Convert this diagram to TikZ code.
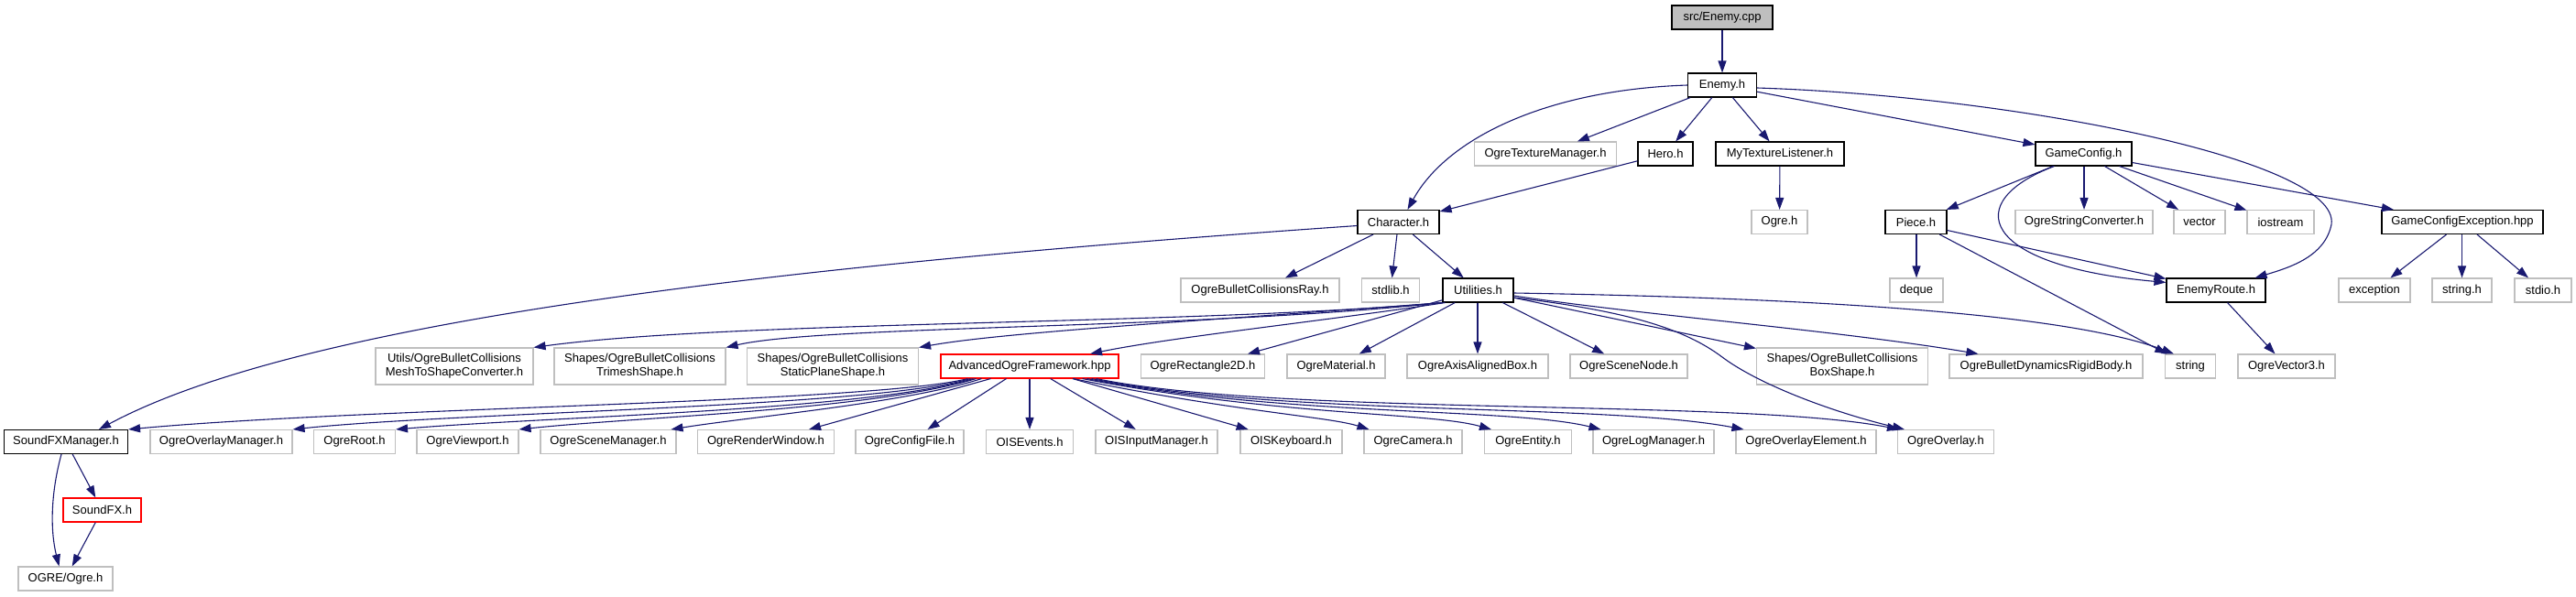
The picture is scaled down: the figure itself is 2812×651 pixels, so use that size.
\documentclass[tikz,border=0pt]{standalone}
\usepackage{fontspec}
\setmainfont{Liberation Sans}
\usetikzlibrary{arrows.meta,calc}
\definecolor{edgec}{HTML}{191970}
\definecolor{grayb}{HTML}{BFBFBF}
\begin{document}
\begin{tikzpicture}[x=1pt,y=-1pt,
  base/.style={draw,line width=1.1pt,inner sep=0pt,fill=white,align=center,
    font=\fontsize{13}{15}\selectfont},
  bk/.style={base,draw=black},
  gy/.style={base,draw=grayb},
  rd/.style={base,draw=red},
  e/.style={draw=edgec,line width=1.1pt,-{Triangle[length=13pt,width=9pt]}}]
\useasboundingbox (0,0) rectangle (2812,651);
% row 0-1
\node[bk,fill=grayb,minimum width=110pt,minimum height=26pt] (root) at (1880,19) {src/Enemy.cpp};
\node[bk,minimum width=75pt,minimum height=26pt] (enemy) at (1880,93) {Enemy.h};
% row 2
\node[gy,minimum width=155pt,minimum height=26pt] (otm) at (1687,168) {OgreTextureManager.h};
\node[bk,minimum width=60pt,minimum height=26pt] (hero) at (1818,168) {Hero.h};
\node[bk,minimum width=140pt,minimum height=26pt] (mtl) at (1943,168) {MyTextureListener.h};
\node[bk,minimum width=105pt,minimum height=26pt] (gcfg) at (2274.5,168) {GameConfig.h};
% row 3
\node[bk,minimum width=89pt,minimum height=26pt] (chr) at (1526.5,242.5) {Character.h};
\node[gy,minimum width=61pt,minimum height=26pt] (ogreh) at (1942.5,242.5) {Ogre.h};
\node[bk,minimum width=67pt,minimum height=26pt] (piece) at (2091.5,242.5) {Piece.h};
\node[gy,minimum width=150pt,minimum height=26pt] (osc) at (2275,242.5) {OgreStringConverter.h};
\node[gy,minimum width=56pt,minimum height=26pt] (vec) at (2401,242.5) {vector};
\node[gy,minimum width=73pt,minimum height=26pt] (ios) at (2489.5,242.5) {iostream};
\node[bk,minimum width=176pt,minimum height=26pt] (gce) at (2688,242.5) {GameConfigException.hpp};
% row 4
\node[gy,minimum width=173pt,minimum height=26pt] (obcr) at (1375.5,317) {OgreBulletCollisionsRay.h};
\node[gy,minimum width=63pt,minimum height=26pt] (stdlib) at (1518,317) {stdlib.h};
\node[bk,minimum width=77pt,minimum height=26pt] (util) at (1613.5,317) {Utilities.h};
\node[gy,minimum width=58pt,minimum height=26pt] (deque) at (2092,317) {deque};
\node[bk,minimum width=108pt,minimum height=26pt] (eroute) at (2419,317) {EnemyRoute.h};
\node[gy,minimum width=78pt,minimum height=26pt] (exc) at (2592,317) {exception};
\node[gy,minimum width=65pt,minimum height=26pt] (strh) at (2687.5,317) {string.h};
\node[gy,minimum width=62pt,minimum height=26pt] (stdio) at (2776,317) {stdio.h};
% row 5
\node[gy,minimum width=172pt,minimum height=40pt] (mesh) at (496,400) {Utils/OgreBulletCollisions\\MeshToShapeConverter.h};
\node[gy,minimum width=187pt,minimum height=40pt] (trim) at (698.5,400) {Shapes/OgreBulletCollisions\\TrimeshShape.h};
\node[gy,minimum width=187pt,minimum height=40pt] (splane) at (909,400) {Shapes/OgreBulletCollisions\\StaticPlaneShape.h};
\node[rd,minimum width=194pt,minimum height=26pt] (aof) at (1124,400) {AdvancedOgreFramework.hpp};
\node[gy,minimum width=135pt,minimum height=26pt] (rect) at (1313,400) {OgreRectangle2D.h};
\node[gy,minimum width=107pt,minimum height=26pt] (mat) at (1458.5,400) {OgreMaterial.h};
\node[gy,minimum width=154pt,minimum height=26pt] (aabb) at (1613,400) {OgreAxisAlignedBox.h};
\node[gy,minimum width=128pt,minimum height=26pt] (snode) at (1778,400) {OgreSceneNode.h};
\node[gy,minimum width=187pt,minimum height=40pt] (box) at (2011,400) {Shapes/OgreBulletCollisions\\BoxShape.h};
\node[gy,minimum width=211pt,minimum height=26pt] (rigid) at (2233.5,400) {OgreBulletDynamicsRigidBody.h};
\node[gy,minimum width=55pt,minimum height=26pt] (str) at (2391,400) {string};
\node[gy,minimum width=106pt,minimum height=26pt] (vec3) at (2496,400) {OgreVector3.h};
% row 6
\node[bk,minimum width=135pt,minimum height=26pt] (sfxm) at (72,482.5) {SoundFXManager.h};
\node[gy,minimum width=155pt,minimum height=26pt] (ovm) at (241.5,482.5) {OgreOverlayManager.h};
\node[gy,minimum width=89pt,minimum height=26pt] (oroot) at (387,482.5) {OgreRoot.h};
\node[gy,minimum width=111pt,minimum height=26pt] (vp) at (510.5,482.5) {OgreViewport.h};
\node[gy,minimum width=148pt,minimum height=26pt] (scm) at (664,482.5) {OgreSceneManager.h};
\node[gy,minimum width=149pt,minimum height=26pt] (rw) at (836,482.5) {OgreRenderWindow.h};
\node[gy,minimum width=118pt,minimum height=26pt] (cf) at (993,482.5) {OgreConfigFile.h};
\node[gy,minimum width=95pt,minimum height=26pt] (oise) at (1124,482.5) {OISEvents.h};
\node[gy,minimum width=133pt,minimum height=26pt] (oisim) at (1262.5,482.5) {OISInputManager.h};
\node[gy,minimum width=111pt,minimum height=26pt] (oisk) at (1409.5,482.5) {OISKeyboard.h};
\node[gy,minimum width=107pt,minimum height=26pt] (cam) at (1542.5,482.5) {OgreCamera.h};
\node[gy,minimum width=95pt,minimum height=26pt] (ent) at (1668,482.5) {OgreEntity.h};
\node[gy,minimum width=132pt,minimum height=26pt] (logm) at (1805,482.5) {OgreLogManager.h};
\node[gy,minimum width=153pt,minimum height=26pt] (ove) at (1971.5,482.5) {OgreOverlayElement.h};
\node[gy,minimum width=105pt,minimum height=26pt] (ov) at (2124,482.5) {OgreOverlay.h};
% rows 7-8
\node[rd,minimum width=85pt,minimum height=26pt] (sfx) at (111.5,557) {SoundFX.h};
\node[gy,minimum width=103pt,minimum height=26pt] (ogre2) at (71.5,632) {OGRE/Ogre.h};

% edges
\draw[e] (root) -- (enemy);
\draw[e] (enemy.west) .. controls (1690,98) and (1580,150) .. ($(chr.north)+(10,0)$);
\draw[e] (enemy) -- (otm);
\draw[e] (enemy) -- (hero);
\draw[e] (enemy) -- (mtl);
\draw[e] (enemy) -- (gcfg);
\draw[e] ($(enemy.east)+(0,3)$) .. controls (2200,105) and (2555,175) .. (2545,245)
  .. controls (2538,280) and (2500,292) .. ($(eroute.north east)+(-12,0)$);
\draw[e] (hero) -- (chr);
\draw[e] (mtl) -- (ogreh);
\draw[e] (gcfg) -- (piece);
\draw[e] ($(gcfg.south west)+(21,0)$) .. controls (2140,220) and (2160,290) .. ($(eroute.north west)+(0,5)$);
\draw[e] (gcfg.south -| osc.north) -- (osc.north);
\draw[e] (gcfg) -- (vec);
\draw[e] (gcfg) -- (ios);
\draw[e] (gcfg) -- (gce);
\draw[e] (piece.south -| deque.north) -- (deque.north);
\draw[e] ($(piece.east)+(0,9)$) -- ($(eroute.north west)+(0,1)$);
\draw[e] (piece) -- (str);
\draw[e] (gce) -- (exc);
\draw[e] (gce.south -| strh.north) -- (strh.north);
\draw[e] (gce) -- (stdio);
\draw[e] (eroute) -- (vec3);
\draw[e] (chr) -- (obcr);
\draw[e] (chr) -- (stdlib);
\draw[e] (chr) -- (util);
\draw[e] ($(chr.west)+(0,4)$) .. controls (850,290) and (330,350) .. ($(sfxm.north)+(36,0)$);
% Utilities
\draw[e] (util.south west) .. controls (1300,355) and (800,350) .. (mesh.north east);
\draw[e] (util.south west) .. controls (1300,360) and (900,355) .. (trim.north east);
\draw[e] (util.south west) .. controls (1350,348) and (1100,362) .. (splane.north east);
\draw[e] ($(util.south west)+(3,0)$) .. controls (1450,350) and (1280,368) .. ($(aof.north)+(66,0)$);
\draw[e] (util) -- (rect);
\draw[e] (util) -- (mat);
\draw[e] (util.south -| aabb.north) -- (aabb.north);
\draw[e] (util) -- (snode);
\draw[e] (util) -- (box);
\draw[e] ($(util.east)+(0,6)$) .. controls (1800,345) and (2000,360) .. ($(rigid.north west)+(32,0)$);
\draw[e] ($(util.east)+(0,3)$) .. controls (1950,325) and (2250,340) .. ($(str.north west)+(10,0)$);
\draw[e] ($(util.east)+(0,8)$) .. controls (1780,340) and (1840,360) .. (1880,390)
  .. controls (1920,420) and (2000,450) .. ($(ov.north west)+(8,0)$);
% AdvancedOgreFramework
\draw[e] ($(aof.south west)+(30,0)$) .. controls (950,440) and (400,445) .. (sfxm.north east);
\draw[e] ($(aof.south west)+(33,0)$) .. controls (950,445) and (500,450) .. (ovm.north east);
\draw[e] ($(aof.south west)+(36,0)$) .. controls (950,448) and (600,455) .. (oroot.north east);
\draw[e] ($(aof.south west)+(39,0)$) .. controls (950,448) and (700,455) .. (vp.north east);
\draw[e] ($(aof.south west)+(45,0)$) .. controls (990,440) and (820,455) .. ($(scm.north east)+(-6,0)$);
\draw[e] ($(aof.south west)+(55,0)$) -- ($(rw.north east)+(-28,0)$);
\draw[e] ($(aof.south west)+(72,0)$) -- ($(cf.north east)+(-40,0)$);
\draw[e] (aof.south) -- (oise.north);
\draw[e] (aof) -- (oisim);
\draw[e] (aof) -- (oisk);
\draw[e] ($(aof.south east)+(-50,0)$) .. controls (1350,450) and (1450,455) .. ($(cam.north west)+(6,0)$);
\draw[e] ($(aof.south east)+(-40,0)$) .. controls (1400,455) and (1560,450) .. ($(ent.north west)+(8,0)$);
\draw[e] ($(aof.south east)+(-35,0)$) .. controls (1400,455) and (1650,445) .. ($(logm.north west)+(9,0)$);
\draw[e] ($(aof.south east)+(-30,0)$) .. controls (1400,455) and (1750,440) .. ($(ove.north west)+(9,0)$);
\draw[e] ($(aof.south east)+(-25,0)$) .. controls (1400,455) and (1900,435) .. ($(ov.north west)+(2,0)$);
% SoundFX
\draw[e] (sfxm) -- (sfx);
\draw[e] ($(sfxm.south)+(-5,0)$) .. controls (55,540) and (55,580) .. ($(ogre2.north)+(-7,0)$);
\draw[e] (sfx) -- (ogre2);
\end{tikzpicture}
\end{document}
